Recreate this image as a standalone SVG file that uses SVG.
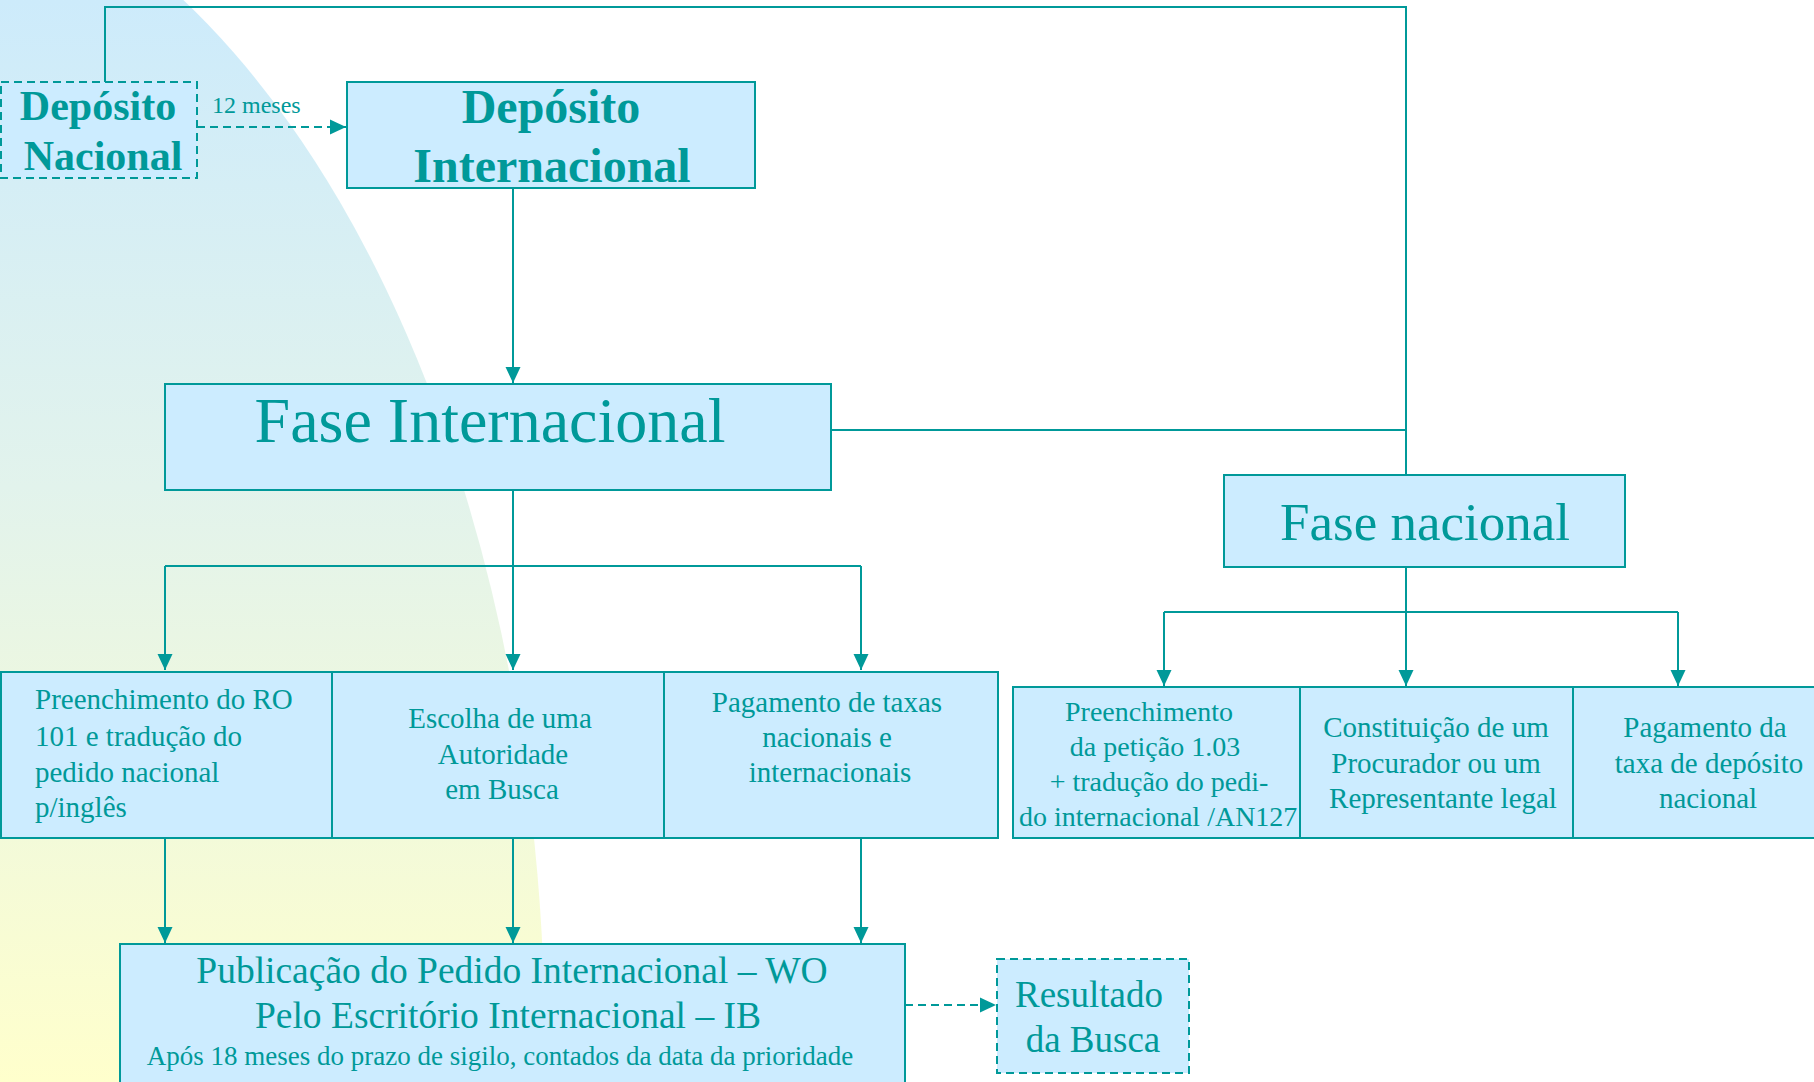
<svg xmlns="http://www.w3.org/2000/svg" width="1814" height="1082" viewBox="0 0 1814 1082">
<defs>
<linearGradient id="bg" x1="0" y1="0" x2="0" y2="1082" gradientUnits="userSpaceOnUse">
<stop offset="0" stop-color="#cdebfb"/>
<stop offset="0.45" stop-color="#e2f3ec"/>
<stop offset="1" stop-color="#ffffcc"/>
</linearGradient>
<marker id="ah" markerUnits="userSpaceOnUse" markerWidth="17" markerHeight="17" viewBox="0 0 17 17" refX="16" refY="8.5" orient="auto">
<path d="M0,1 L16,8.5 L0,16 Z" fill="#009999"/>
</marker>
<style>
.box{fill:#ccecff;stroke:#009999;stroke-width:2}
.dbox{fill:#ccecff;stroke:#009999;stroke-width:2;stroke-dasharray:8 5}
.ln{fill:none;stroke:#009999;stroke-width:2}
.dln{fill:none;stroke:#009999;stroke-width:2;stroke-dasharray:8 5}
.t{font-family:"Liberation Serif","Times New Roman",serif;fill:#009999}
.b{font-weight:bold}
.m{text-anchor:middle}
</style>
</defs>
<ellipse cx="-156" cy="1050" rx="701" ry="1200" fill="url(#bg)"/>
<g id="connectors">
<path class="ln" d="M105,82 V7 H1406 V475"/>
<path class="ln" d="M831,430 H1406"/>
<path class="dln" d="M197,127 H346" marker-end="url(#ah)"/>
<path class="ln" d="M513,188 V383" marker-end="url(#ah)"/>
<path class="ln" d="M513,490 V670" marker-end="url(#ah)"/>
<path class="ln" d="M165,566 H861"/>
<path class="ln" d="M165,566 V670" marker-end="url(#ah)"/>
<path class="ln" d="M861,566 V670" marker-end="url(#ah)"/>
<path class="ln" d="M1406,567 V686" marker-end="url(#ah)"/>
<path class="ln" d="M1164,612 H1678"/>
<path class="ln" d="M1164,612 V686" marker-end="url(#ah)"/>
<path class="ln" d="M1678,612 V686" marker-end="url(#ah)"/>
<path class="ln" d="M165,838 V943" marker-end="url(#ah)"/>
<path class="ln" d="M513,838 V943" marker-end="url(#ah)"/>
<path class="ln" d="M861,838 V943" marker-end="url(#ah)"/>
<path class="dln" d="M905,1005 H996" marker-end="url(#ah)"/>
</g>
<g id="deposito-nacional">
<rect class="dbox" x="1" y="82" width="196" height="96"/>
<text class="t b m" x="98" y="120" font-size="42">Depósito</text>
<text class="t b m" x="103" y="170" font-size="42">Nacional</text>
</g>
<text class="t" x="212" y="113" font-size="24">12 meses</text>
<g id="deposito-internacional">
<rect class="box" x="347" y="82" width="408" height="106"/>
<text class="t b m" x="551" y="123" font-size="48">Depósito</text>
<text class="t b m" x="552" y="182" font-size="48">Internacional</text>
</g>
<g id="fase-internacional">
<rect class="box" x="165" y="384" width="666" height="106"/>
<text class="t m" x="490" y="442" font-size="64">Fase Internacional</text>
</g>
<g id="fase-nacional">
<rect class="box" x="1224" y="475" width="401" height="92"/>
<text class="t m" x="1425" y="540" font-size="53">Fase nacional</text>
</g>
<g id="preenchimento-ro">
<rect class="box" x="1" y="672" width="331" height="166"/>
<text class="t" x="35" y="709" font-size="29">Preenchimento do RO</text>
<text class="t" x="35" y="746" font-size="29">101 e tradução do</text>
<text class="t" x="35" y="782" font-size="29">pedido nacional</text>
<text class="t" x="35" y="817" font-size="29">p/inglês</text>
</g>
<g id="escolha-autoridade">
<rect class="box" x="332" y="672" width="332" height="166"/>
<text class="t m" x="500" y="728" font-size="29">Escolha de uma</text>
<text class="t m" x="503" y="764" font-size="29">Autoridade</text>
<text class="t m" x="502" y="799" font-size="29">em Busca</text>
</g>
<g id="pagamento-taxas">
<rect class="box" x="664" y="672" width="334" height="166"/>
<text class="t m" x="827" y="712" font-size="29">Pagamento de taxas</text>
<text class="t m" x="827" y="747" font-size="29">nacionais e</text>
<text class="t m" x="830" y="782" font-size="29">internacionais</text>
</g>
<g id="preenchimento-peticao">
<rect class="box" x="1013" y="687" width="287" height="151"/>
<text class="t m" x="1149" y="721" font-size="28">Preenchimento</text>
<text class="t m" x="1155" y="756" font-size="28">da petição 1.03</text>
<text class="t m" x="1159" y="791" font-size="28">+ tradução do pedi-</text>
<text class="t" x="1019" y="826" font-size="28">do internacional /AN127</text>
</g>
<g id="constituicao-procurador">
<rect class="box" x="1300" y="687" width="273" height="151"/>
<text class="t m" x="1436" y="737" font-size="29">Constituição de um</text>
<text class="t m" x="1436" y="773" font-size="29">Procurador ou um</text>
<text class="t m" x="1443" y="808" font-size="29">Representante legal</text>
</g>
<g id="pagamento-taxa-deposito">
<rect class="box" x="1573" y="687" width="270" height="151"/>
<text class="t m" x="1705" y="737" font-size="29">Pagamento da</text>
<text class="t m" x="1709" y="773" font-size="29">taxa de depósito</text>
<text class="t m" x="1708" y="808" font-size="29">nacional</text>
</g>
<g id="publicacao">
<rect class="box" x="120" y="944" width="785" height="150"/>
<text class="t m" x="512" y="983" font-size="37.5">Publicação do Pedido Internacional – WO</text>
<text class="t m" x="508" y="1028" font-size="37.5">Pelo Escritório Internacional – IB</text>
<text class="t m" x="500" y="1065" font-size="27">Após 18 meses do prazo de sigilo, contados da data da prioridade</text>
</g>
<g id="resultado-busca">
<rect class="dbox" x="997" y="959" width="192" height="114"/>
<text class="t m" x="1089" y="1007" font-size="37">Resultado</text>
<text class="t m" x="1093" y="1052" font-size="37">da Busca</text>
</g>
</svg>
